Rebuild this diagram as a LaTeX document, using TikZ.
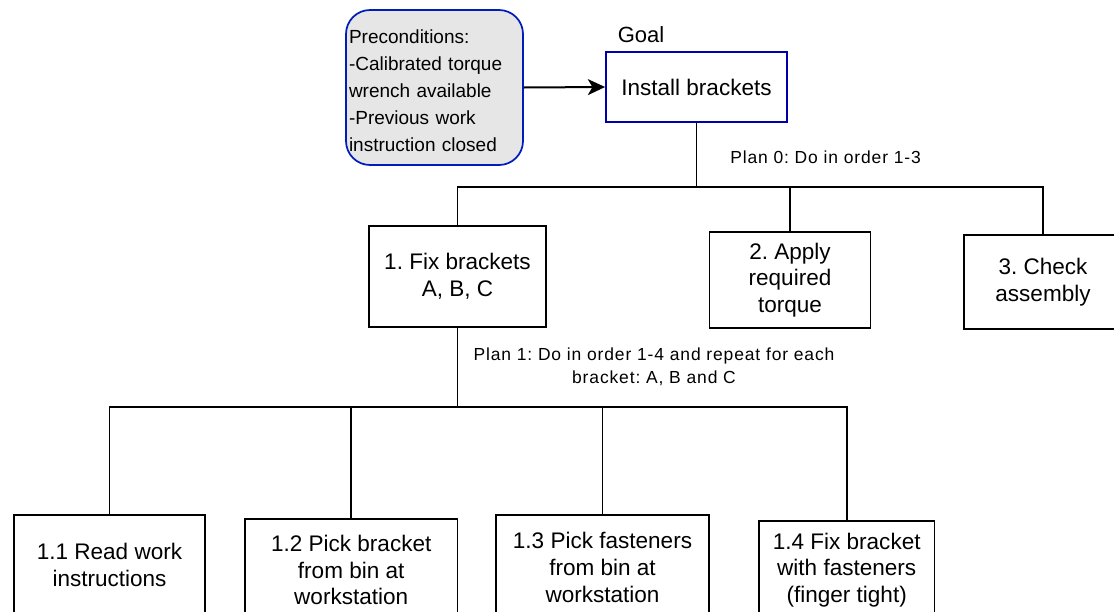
\documentclass[tikz,border=0pt]{standalone}
\usepackage{fontspec}
\setmainfont{Liberation Sans}
\newfontfamily\planfont[LetterSpace=5]{Liberation Sans}
\usetikzlibrary{arrows.meta}
\definecolor{preblue}{HTML}{001DBC}
\definecolor{goalblue}{HTML}{0000AA}
\definecolor{pregray}{HTML}{E6E6E6}
\frenchspacing
\tikzset{
  x=0.75pt, y=-0.75pt,
  task/.style={draw=black, line width=1.3pt, fill=white, align=center, inner sep=0pt,
    font=\fontsize{16.9pt}{20pt}\selectfont},
  conn/.style={draw=black, line width=1.3pt},
  plantext/.style={inner sep=0pt, font=\planfont\fontsize{13.1pt}{17.25pt}\selectfont},
}
\begin{document}
\begin{tikzpicture}
\frenchspacing
\useasboundingbox (0,0) rectangle (1114,611);
\clip (0,0) rectangle (1114,611);
\fill[white] (0,0) rectangle (1114,611);

% preconditions
\node[draw=preblue, fill=pregray, line width=1.3pt, rounded corners=18pt,
  minimum width=132.75pt, minimum height=116.25pt, text width=128.25pt,
  inner xsep=2.25pt, inner ysep=0pt, align=left,
  font=\fontsize{14.25pt}{20.25pt}\selectfont] (pre) at (434.5,87.5)
  {\raisebox{-2.5pt}[\height][\depth]{\parbox{128.25pt}{Preconditions:\\-Calibrated torque\\wrench available\\-Previous work\\instruction closed}}};

% goal
\node[inner sep=0pt, font=\fontsize{16.5pt}{20pt}\selectfont] (goallbl) at (641,35) {Goal};
\node[task, draw=goalblue, minimum width=135.75pt, minimum height=52.5pt] (install) at (696.5,87) {Install brackets};

\draw[conn, line width=1.5pt, -{Stealth[length=13pt,width=12pt,inset=3.5pt]}] (pre.east) -- (install.west);

% level 1
\node[task, minimum width=132.75pt, minimum height=75.75pt] (b1) at (457.5,276.5) {1. Fix brackets\\A, B, C};
\node[task, minimum width=120.75pt, minimum height=72pt] (b2) at (790,280) {2. Apply\\required\\torque};
\node[task, minimum width=118.5pt, minimum height=70.5pt] (b3) at (1043,282) {3. Check\\assembly};

\coordinate (j0) at (697,187);
\draw[conn] (install.south) -- (install.south |- j0);
\draw[conn] (install.south |- j0) -| (b1.north);
\draw[conn] (install.south |- j0) -| (b2.north);
\draw[conn] (install.south |- j0) -| (b3.north);

\node[plantext, anchor=west] (plan0) at (730,157) {Plan 0: Do in order 1-3};

% level 2
\node[task, minimum width=143.25pt, minimum height=75pt] (b11) at (109.5,565) {1.1 Read work\\instructions};
\node[task, minimum width=159.4pt, minimum height=76.5pt] (b12) at (351.2,570) {1.2 Pick bracket\\from bin at\\workstation};
\node[task, minimum width=159.75pt, minimum height=78.75pt] (b13) at (602.5,567.5) {1.3 Pick fasteners\\from bin at\\workstation};
\node[task, minimum width=131.6pt, minimum height=73.5pt] (b14) at (846.7,570) {1.4 Fix bracket\\with fasteners\\(finger tight)};

\coordinate (j1) at (457.5,407);
\draw[conn] (b1.south) -- (j1);
\draw[conn] (j1) -| (b11.north);
\draw[conn] (j1) -| (b12.north);
\draw[conn] (j1) -| (b13.north);
\draw[conn] (j1) -| (b14.north);

\node[plantext, align=center] (plan1) at (654,367) {Plan 1: Do in order 1-4 and repeat for each\\bracket: A, B and C};
\end{tikzpicture}
\end{document}
